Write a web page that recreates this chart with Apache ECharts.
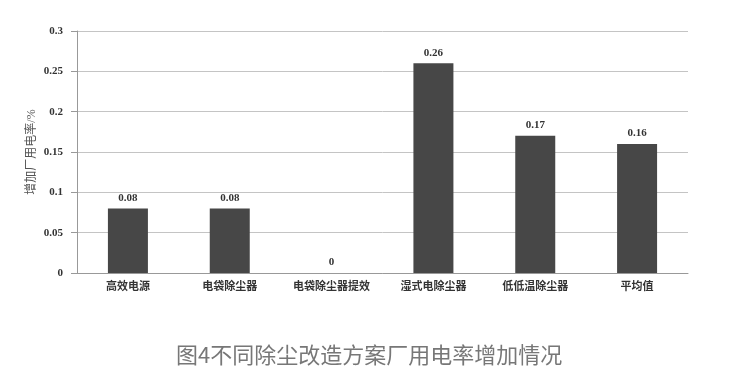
<!DOCTYPE html>
<html>
<head>
<meta charset="utf-8">
<script src="https://cdn.jsdelivr.net/npm/echarts@6/dist/echarts.min.js"></script>
<style>
  html, body { margin: 0; padding: 0; background: #fff; }
  #chart { width: 745px; height: 385px; }
</style>
</head>
<body>
<div id="chart"></div>
<script>
// Categories of dust-removal retrofit schemes
const categories = ['高效电源', '电袋除尘器', '电袋除尘器提效', '湿式电除尘器', '低低温除尘器', '平均值'];
// Increase of plant auxiliary power rate, %
const values = [0.08, 0.08, 0, 0.26, 0.17, 0.16];
// Value axis ticks
const yTicks = [0, 0.05, 0.1, 0.15, 0.2, 0.25, 0.3];
const caption = '图4不同除尘改造方案厂用电率增加情况';
const yName = '增加厂用电率/%';

const serif = '"Liberation Serif", "Noto Sans CJK SC", serif';
const chart = echarts.init(document.getElementById('chart'));
chart.setOption({
  animation: false,
  backgroundColor: '#fff',
  title: {
    text: caption,
    left: 171,
    top: 339,
    textStyle: {
      fontFamily: '"Noto Sans CJK SC", sans-serif',
      fontSize: 22,
      fontWeight: 'normal',
      color: '#777'
    }
  },
  grid: { left: 77, right: 57, top: 31, bottom: 112 },
  xAxis: {
    type: 'category',
    data: categories,
    axisLine: { lineStyle: { color: '#999', width: 1 } },
    axisTick: { show: false },
    axisLabel: {
      margin: 9,
      fontFamily: serif,
      fontSize: 11,
      fontWeight: 'bold',
      color: '#333'
    }
  },
  yAxis: {
    type: 'value',
    min: yTicks[0],
    max: yTicks[yTicks.length - 1],
    interval: yTicks[1] - yTicks[0],
    name: yName,
    nameLocation: 'middle',
    nameGap: 39,
    nameMoveOverlap: false,
    nameRotate: 90,
    nameTextStyle: {
      fontFamily: serif,
      fontSize: 12,
      color: '#555'
    },
    axisLine: { show: true, lineStyle: { color: '#999', width: 1 } },
    axisTick: { show: true, length: 6, lineStyle: { color: '#999' } },
    axisLabel: {
      margin: 14,
      fontFamily: serif,
      fontSize: 11,
      fontWeight: 'bold',
      color: '#333',
      formatter: v => String(Math.round(v * 100) / 100)
    },
    splitLine: { lineStyle: { color: '#c4c4c4', width: 1 } }
  },
  series: [{
    type: 'bar',
    data: values,
    barWidth: 40,
    itemStyle: { color: '#474747' },
    label: {
      show: true,
      position: 'top',
      distance: 5,
      fontFamily: serif,
      fontSize: 11,
      fontWeight: 'bold',
      color: '#333',
      formatter: p => String(p.value)
    }
  }]
});
</script>
</body>
</html>
